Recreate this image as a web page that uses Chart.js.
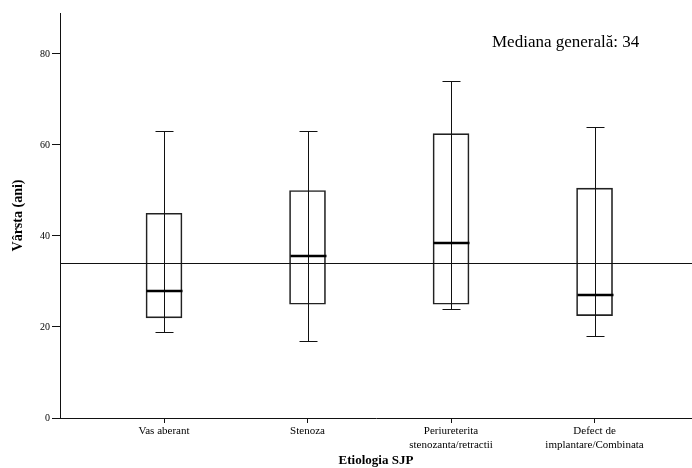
<!DOCTYPE html>
<html>
<head>
<meta charset="utf-8">
<script src="https://cdn.jsdelivr.net/npm/chart.js@4.4.1/dist/chart.umd.min.js"></script>
<style>
  body { margin: 0; background: #fff; }
  canvas { display: block; }
</style>
</head>
<body>
<canvas id="boxChart" width="692" height="468"></canvas>
<script>
// categorii (etiologia SJP)
const categories = [
    ['Vas aberant'],
    ['Stenoza'],
    ['Periureterita', 'stenozanta/retractii'],
    ['Defect de', 'implantare/Combinata']
];
const positions = [1, 2, 3, 4];

// statistici box plot (varsta, ani)
const whiskerLow = [19, 17, 24, 18];
const q1 = [22, 25, 25, 22.5];
const medians = [28, 35.5, 38.5, 27];
const q3 = [45, 50, 62.5, 50.5];
const whiskerHigh = [63, 63, 74, 64];

const overallMedian = 34;
const yTicks = [0, 20, 40, 60, 80];

const serif = '"Liberation Serif", "Times New Roman", serif';

const boxExtras = {
    id: 'boxExtras',
    afterDatasetsDraw(chart) {
        const ctx = chart.ctx;
        const x = chart.scales.x;
        const y = chart.scales.y;
        const area = chart.chartArea;
        ctx.save();
        ctx.strokeStyle = '#111';
        ctx.lineWidth = 1;

        // linia medianei generale
        const ym = Math.round(y.getPixelForValue(overallMedian)) + 0.5;
        ctx.beginPath();
        ctx.moveTo(area.left, ym);
        ctx.lineTo(area.right, ym);
        ctx.stroke();

        positions.forEach((p, i) => {
            const cx = Math.round(x.getPixelForValue(p)) + 0.5;
            const yLo = Math.round(y.getPixelForValue(whiskerLow[i])) + 0.5;
            const yHi = Math.round(y.getPixelForValue(whiskerHigh[i])) + 0.5;
            ctx.lineWidth = 1;
            ctx.beginPath();
            ctx.moveTo(cx, yLo);
            ctx.lineTo(cx, yHi);
            ctx.moveTo(cx - 9, yLo);
            ctx.lineTo(cx + 9, yLo);
            ctx.moveTo(cx - 9, yHi);
            ctx.lineTo(cx + 9, yHi);
            ctx.stroke();

            const yMed = Math.round(y.getPixelForValue(medians[i]));
            ctx.lineWidth = 2.5;
            ctx.strokeStyle = '#000';
            ctx.beginPath();
            ctx.moveTo(cx - 18, yMed);
            ctx.lineTo(cx + 18, yMed);
            ctx.stroke();
            ctx.strokeStyle = '#111';
        });

        ctx.fillStyle = '#000';
        ctx.font = '17px ' + serif;
        ctx.textBaseline = 'alphabetic';
        ctx.fillText('Mediana generală: ' + overallMedian, 492, 47);
        ctx.restore();
    }
};

const ctx = document.getElementById('boxChart').getContext('2d');
new Chart(ctx, {
    type: 'bar',
    data: {
        datasets: [{
            data: positions.map((p, i) => ({ x: p, y: [q1[i], q3[i]] })),
            backgroundColor: 'rgba(0,0,0,0)',
            borderColor: '#222',
            borderWidth: 1,
            borderSkipped: false,
            barThickness: 36
        }]
    },
    options: {
        responsive: false,
        animation: false,
        layout: { padding: { top: 13, right: 0, left: 0, bottom: 0 } },
        plugins: {
            legend: { display: false },
            tooltip: { enabled: false }
        },
        scales: {
            x: {
                type: 'linear',
                offset: false,
                min: 0.2753,
                max: 4.679,
                afterBuildTicks: scale => {
                    scale.ticks = positions.map(v => ({ value: v }));
                },
                afterFit: scale => { scale.height = 50; },
                ticks: {
                    callback: value => categories[value - 1],
                    color: '#000',
                    font: { family: serif, size: 11 },
                    padding: 2,
                    maxRotation: 0,
                    autoSkip: false
                },
                grid: {
                    offset: false,
                    drawOnChartArea: false,
                    drawTicks: true,
                    tickLength: 5,
                    color: '#111'
                },
                border: { display: true, color: '#111', width: 1 },
                title: {
                    display: true,
                    text: 'Etiologia SJP',
                    color: '#000',
                    font: { family: serif, size: 13, weight: 'bold' },
                    padding: { top: 0, bottom: 0 }
                }
            },
            y: {
                min: 0,
                max: 89,
                afterBuildTicks: scale => {
                    scale.ticks = yTicks.map(v => ({ value: v }));
                },
                afterFit: scale => { scale.width = 60; },
                ticks: {
                    color: '#000',
                    font: { family: serif, size: 10 },
                    padding: 2
                },
                grid: {
                    drawOnChartArea: false,
                    drawTicks: true,
                    tickLength: 8,
                    color: '#111'
                },
                border: { display: true, color: '#111', width: 1 },
                title: {
                    display: true,
                    text: 'Vârsta (ani)',
                    color: '#000',
                    font: { family: serif, size: 14, weight: 'bold' },
                    padding: { top: 10, bottom: 0 }
                }
            }
        }
    },
    plugins: [boxExtras]
});
</script>
</body>
</html>
